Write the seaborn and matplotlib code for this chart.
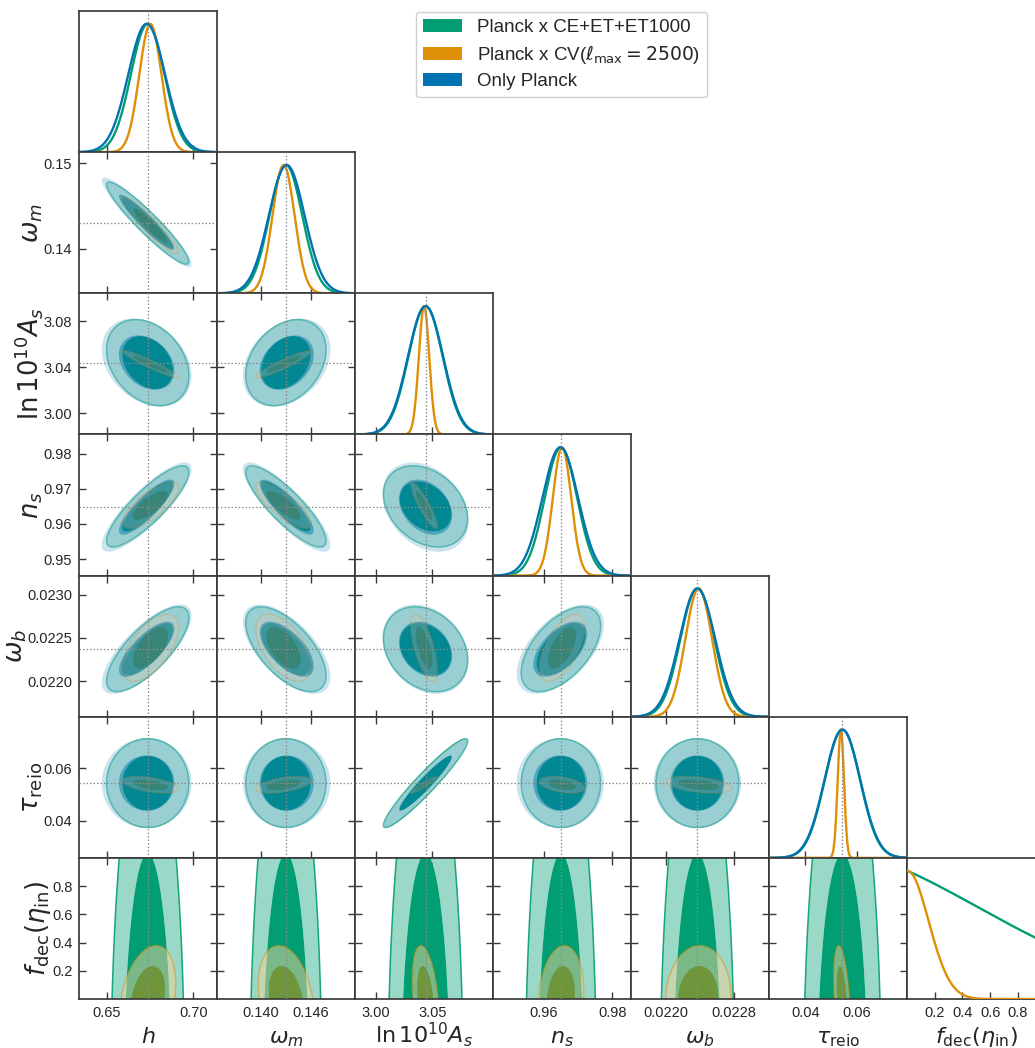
import math
import numpy as np
import matplotlib
matplotlib.use("Agg")
import matplotlib.pyplot as plt
from matplotlib.patches import Patch
from matplotlib.ticker import FixedLocator, FixedFormatter, NullLocator
import seaborn as sns

sns.set_theme(style="ticks")
plt.rcParams["font.family"] = ["Liberation Sans", "DejaVu Sans"]
plt.rcParams["mathtext.fontset"] = "dejavusans"

# ---------------------------------------------------------------- parameters
labels = [r"$h$", r"$\omega_m$", r"$\ln 10^{10}A_s$", r"$n_s$", r"$\omega_b$",
          r"$\tau_{\rm reio}$", r"$f_{\rm dec}(\eta_{\rm in})$"]
fiducial = [0.6736, 0.1430, 3.044, 0.9649, 0.02237, 0.0544]
axis_lo = [0.6342, 0.1348, 2.9818, 0.9453, 0.02159, 0.0259, 0.0]
axis_hi = [0.7139, 0.1513, 3.1040, 0.9855, 0.02322, 0.0797, 1.0]

x_ticks = [[0.65, 0.70], [0.140, 0.146], [3.00, 3.05], [0.96, 0.98],
           [0.0220, 0.0228], [0.04, 0.06], [0.2, 0.4, 0.6, 0.8]]
x_ticklabels = [["0.65", "0.70"], ["0.140", "0.146"], ["3.00", "3.05"],
                ["0.96", "0.98"], ["0.0220", "0.0228"], ["0.04", "0.06"],
                ["0.2", "0.4", "0.6", "0.8"]]
y_ticks = [[], [0.14, 0.15], [3.00, 3.04, 3.08], [0.95, 0.96, 0.97, 0.98],
           [0.0220, 0.0225, 0.0230], [0.04, 0.06], [0.2, 0.4, 0.6, 0.8]]
y_ticklabels = [[], ["0.14", "0.15"], ["3.00", "3.04", "3.08"],
                ["0.95", "0.96", "0.97", "0.98"], ["0.0220", "0.0225", "0.0230"],
                ["0.04", "0.06"], ["0.2", "0.4", "0.6", "0.8"]]

# ---------------------------------------------------------------- posteriors
series_names = ["Planck x CE+ET+ET1000",
                r"Planck x CV($\ell_{\rm max} = 2500$)",
                "Only Planck"]

# centres of (h, omega_m, lnAs, n_s, omega_b, tau)
mean_ce = [0.6737, 0.1430, 3.044, 0.9650, 0.02237, 0.0544]
mean_cv = [0.6737, 0.1430, 3.044, 0.9650, 0.02238, 0.0542]
mean_pl = [0.6731, 0.1431, 3.044, 0.9648, 0.02237, 0.0544]

# 1-sigma widths of (h, omega_m, lnAs, n_s, omega_b, tau)
sd_ce = [0.0097, 0.00196, 0.0152, 0.00472, 0.000200, 0.0069]
sd_cv = [0.0066, 0.00135, 0.0048, 0.00270, 0.000158, 0.0013]
sd_pl = [0.0106, 0.00214, 0.0156, 0.00520, 0.000211, 0.0070]

# correlation coefficients for pairs (0,1),(0,2),...,(0,5),(1,2),...,(4,5)
pairs = [(i, j) for i in range(6) for j in range(i + 1, 6)]
corr_ce = [-0.94, -0.30, 0.85, 0.75, 0.00,
           0.30, -0.85, -0.62, 0.00,
           -0.30, -0.25, 0.95,
           0.55, 0.00,
           0.00]
corr_cv = [-0.94, -0.95, 0.75, 0.60, -0.50,
           0.93, -0.80, -0.55, 0.50,
           -0.90, -0.65, 0.95,
           0.60, -0.40,
           -0.40]
corr_pl = [-0.94, -0.30, 0.85, 0.75, 0.00,
           0.30, -0.85, -0.62, 0.00,
           -0.30, -0.25, 0.95,
           0.55, 0.00,
           0.00]

# f_dec(eta_in): Gaussian (centre, width) truncated to the prior [0, 1]
fdec_ce = (-0.70, 1.21)
fdec_cv = (0.00, 0.155)
# correlation of f_dec with the six parameters above
fcorr_ce = [0.0, 0.0, 0.0, 0.0, 0.0, 0.0]
fcorr_cv = [0.30, -0.26, -0.35, 0.15, 0.05, -0.40]

palette = sns.color_palette("colorblind")
series = [
    dict(name=series_names[0], color=palette[2], mean=mean_ce, sd=sd_ce,
         corr=corr_ce, fdec=fdec_ce, fcorr=fcorr_ce, alpha=1.0, z=1),
    dict(name=series_names[1], color=palette[1], mean=mean_cv, sd=sd_cv,
         corr=corr_cv, fdec=fdec_cv, fcorr=fcorr_cv, alpha=0.5, z=2),
    dict(name=series_names[2], color=palette[0], mean=mean_pl, sd=sd_pl,
         corr=corr_pl, fdec=None, fcorr=None, alpha=0.5, z=3),
]

_erf = np.vectorize(math.erf)


def Phi(z):
    return 0.5 * (1.0 + _erf(np.asarray(z) / math.sqrt(2.0)))


def corr_of(s, i, j):
    a, b = min(i, j), max(i, j)
    return s["corr"][pairs.index((a, b))]


def dens1d(s, i, x):
    if i == 6:
        fm, fs = s["fdec"]
        return np.exp(-0.5 * ((x - fm) / fs) ** 2)
    mu, sd = s["mean"][i], s["sd"][i]
    p = np.exp(-0.5 * ((x - mu) / sd) ** 2)
    if s["fdec"] is not None and s["fcorr"][i] != 0.0:
        fm, fs = s["fdec"]
        r = s["fcorr"][i]
        m = fm + r * fs * (x - mu) / sd
        c = fs * math.sqrt(1.0 - r * r)
        p = p * (Phi((1.0 - m) / c) - Phi(-m / c))
    return p


def marginal_mean(s, i):
    mu, sd = s["mean"][i], s["sd"][i]
    x = np.linspace(mu - 7 * sd, mu + 7 * sd, 2001)
    p = dens1d(s, i, x)
    return float(np.sum(x * p) / np.sum(p))


def dens2d(s, i, j, X, Y):
    if j == 6:
        mu, sd = s["mean"][i], s["sd"][i]
        fm, fs = s["fdec"]
        r = s["fcorr"][i]
        zx = (X - mu) / sd
        zy = (Y - fm) / fs
    else:
        zx = (X - marginal_mean(s, i)) / s["sd"][i]
        zy = (Y - marginal_mean(s, j)) / s["sd"][j]
        r = corr_of(s, i, j)
    return np.exp(-0.5 * (zx * zx - 2 * r * zx * zy + zy * zy) / (1 - r * r))


def hpd_levels(D, fracs=(0.95, 0.68)):
    flat = np.sort(D.ravel())[::-1]
    cum = np.cumsum(flat)
    cum /= cum[-1]
    return [flat[min(np.searchsorted(cum, f), flat.size - 1)] for f in fracs]


def paler(c, k=0.6):
    c = np.array(c[:3])
    return tuple((1 - k) * c + k)


# ---------------------------------------------------------------- layout
W, H = 1035.0, 1048.0
X0, Y0 = 79.3, 11.0
CW, RH = 138.0, 141.15
SPINE = "#3a3a3a"
DOT = dict(color="#8a8a8a", lw=0.9, ls=(0, (1.2, 1.6)), zorder=6)
TICK_FS = 10.5

fig = plt.figure(figsize=(W / 100, H / 100), dpi=100)


def panel(row, col):
    left = (X0 + col * CW) / W
    bottom = 1 - (Y0 + (row + 1) * RH) / H
    ax = fig.add_axes([left, bottom, CW / W, RH / H])
    for sp in ax.spines.values():
        sp.set_color(SPINE)
        sp.set_linewidth(1.25)
    return ax


n = 7
for row in range(n):
    for col in range(row + 1):
        ax = panel(row, col)
        ax.set_xlim(axis_lo[col], axis_hi[col])
        ax.xaxis.set_major_locator(FixedLocator(x_ticks[col]))
        ax.xaxis.set_major_formatter(FixedFormatter(x_ticklabels[col]))
        if row == col:
            # one-dimensional marginals
            xs = np.linspace(axis_lo[col], axis_hi[col], 500)
            for s in series:
                if col == 6 and s["fdec"] is None:
                    continue
                p = dens1d(s, col, xs)
                p = p / p.max()
                sns.lineplot(x=xs, y=p, ax=ax, color=s["color"], lw=1.7,
                             zorder=s["z"] + 2)
            ax.set_ylim(0, 1.1)
            ax.yaxis.set_major_locator(NullLocator())
            ax.tick_params(axis="x", direction="in", length=5, width=1,
                           color=SPINE, top=False, bottom=True,
                           labelbottom=(row == n - 1), labelsize=TICK_FS, pad=5)
            ax.tick_params(axis="y", left=False, right=False, labelleft=False)
            if col < 6:
                ax.axvline(fiducial[col], **DOT)
        else:
            ax.set_ylim(axis_lo[row], axis_hi[row])
            ax.yaxis.set_major_locator(FixedLocator(y_ticks[row]))
            ax.yaxis.set_major_formatter(FixedFormatter(y_ticklabels[row]))
            gx = np.linspace(axis_lo[col], axis_hi[col], 300)
            gy = np.linspace(axis_lo[row], axis_hi[row], 300)
            GX, GY = np.meshgrid(gx, gy)
            for s in series:
                if row == 6 and s["fdec"] is None:
                    continue
                D = dens2d(s, col, row, GX, GY)
                l95, l68 = hpd_levels(D)
                c = s["color"]
                ax.contourf(GX, GY, D, levels=[l95, l68, D.max() * 1.01],
                            colors=[paler(c), c], alpha=s["alpha"],
                            zorder=s["z"], antialiased=True)
                if s["fdec"] is not None:
                    ax.contour(GX, GY, D, levels=[l95], colors=[c],
                               linewidths=1.1, alpha=s["alpha"] * 0.9,
                               zorder=s["z"])
            ax.axvline(fiducial[col], **DOT)
            if row < 6:
                ax.axhline(fiducial[row], **DOT)
            ax.tick_params(axis="both", direction="in", length=5, width=1,
                           color=SPINE, top=True, right=True, bottom=True,
                           left=True, labelsize=TICK_FS, pad=5,
                           labelbottom=(row == n - 1), labelleft=(col == 0))
        if row == n - 1:
            ax.set_xlabel(labels[col], fontsize=16)
            ax.xaxis.set_label_coords(0.5, (999.0 - 1043.0) / RH)
            ax.xaxis.label.set_va("baseline")
        if col == 0 and row > 0:
            ax.set_ylabel(labels[row], fontsize=18.5, labelpad=-1)

handles = [Patch(facecolor=s["color"], edgecolor="none", label=s["name"])
           for s in series]
fig.legend(handles=handles, loc="upper center",
           bbox_to_anchor=((415 + 708) / 2 / W, 1 - 11.5 / H),
           borderaxespad=0.0,
           fontsize=13.5, frameon=True, fancybox=True, framealpha=1.0,
           edgecolor="#d0d0d0", borderpad=0.4, handlelength=2.05,
           handleheight=0.7, handletextpad=0.8, labelspacing=0.36)

fig.savefig("out.png", dpi=100)
